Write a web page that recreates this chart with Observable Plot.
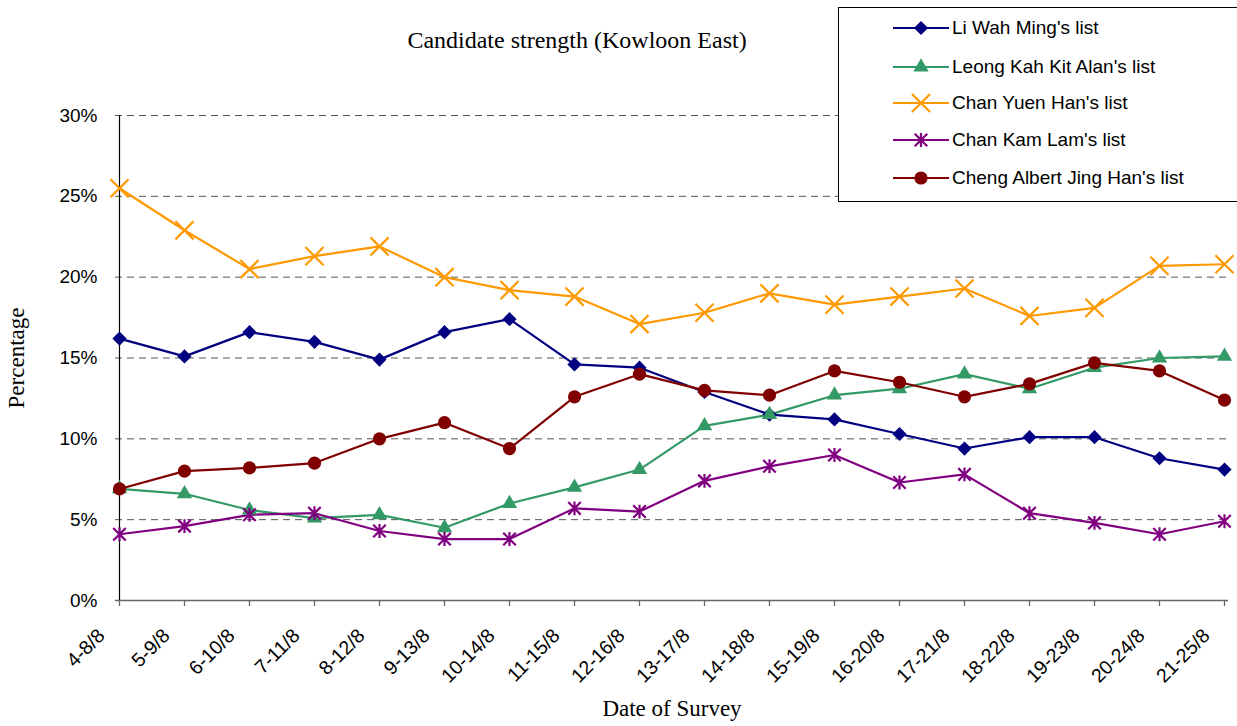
<!DOCTYPE html>
<html>
<head>
<meta charset="utf-8">
<script src="https://cdn.jsdelivr.net/npm/d3@7"></script>
<script src="https://cdn.jsdelivr.net/npm/@observablehq/plot@0.6"></script>
<style>
  body { margin: 0; background: #fff; }
  #wrap { position: relative; width: 1237px; height: 726px; }
  #legend { position: absolute; left: 838px; top: 7px; width: 399px; height: 195px; border: 1px solid #000; border-right: none; background: #fff; box-sizing: border-box; font-family: "Liberation Sans", Arial, sans-serif; font-size: 19px; color: #000; }
  .item { position: absolute; left: 53px; height: 22px; display: flex; align-items: center; white-space: nowrap; }
  .item svg { margin-right: 2px; }
</style>
</head>
<body>
<div id="wrap"></div>
<script>
const dates = ["4-8/8","5-9/8","6-10/8","7-11/8","8-12/8","9-13/8","10-14/8","11-15/8","12-16/8","13-17/8","14-18/8","15-19/8","16-20/8","17-21/8","18-22/8","19-23/8","20-24/8","21-25/8"];
const seriesNames = ["Li Wah Ming's list","Leong Kah Kit Alan's list","Chan Yuen Han's list","Chan Kam Lam's list","Cheng Albert Jing Han's list"];
const liWahMing   = [16.2,15.1,16.6,16.0,14.9,16.6,17.4,14.6,14.4,12.9,11.5,11.2,10.3,9.4,10.1,10.1,8.8,8.1];
const leongKahKit = [6.9,6.6,5.6,5.1,5.3,4.5,6.0,7.0,8.1,10.8,11.5,12.7,13.1,14.0,13.1,14.4,15.0,15.1];
const chanYuenHan = [25.5,22.9,20.5,21.3,21.9,20.0,19.2,18.8,17.1,17.8,19.0,18.3,18.8,19.3,17.6,18.1,20.7,20.8];
const chanKamLam  = [4.1,4.6,5.3,5.4,4.3,3.8,3.8,5.7,5.5,7.4,8.3,9.0,7.3,7.8,5.4,4.8,4.1,4.9];
const chengAlbert = [6.9,8.0,8.2,8.5,10.0,11.0,9.4,12.6,14.0,13.0,12.7,14.2,13.5,12.6,13.4,14.7,14.2,12.4];
const yTicks = [0,5,10,15,20,25,30];

// Excel-style star marker: vertical bar plus an X
const excelStar = {
  draw(ctx, size) {
    const r = Math.sqrt(size) * 0.56;
    const d = r * 0.9;
    ctx.moveTo(0, -r); ctx.lineTo(0, r);
    ctx.moveTo(-d, -d); ctx.lineTo(d, d);
    ctx.moveTo(-d, d); ctx.lineTo(d, -d);
  }
};

const colors = ["#000080","#339966","#FF9900","#800080","#800000"];
const symbols = [d3.symbolDiamond2, d3.symbolTriangle2, d3.symbolTimes, excelStar, d3.symbolCircle];
const filled = [true,true,false,false,true];
const radii = [6.4,7.3,8.3,7,6.6];
const valuesList = [liWahMing, leongKahKit, chanYuenHan, chanKamLam, chengAlbert];

const data = [];
seriesNames.forEach((s, i) => valuesList[i].forEach((v, j) => data.push({series: s, date: dates[j], value: v, idx: i})));

const sans = "Liberation Sans, Arial, sans-serif";
const serif = "Liberation Serif, Times New Roman, serif";

const marks = [
  Plot.ruleY(yTicks.filter(d => d > 0), {stroke: "#555", strokeDasharray: "7,5", strokeWidth: 1}),
  Plot.axisY({ticks: yTicks, tickFormat: d => d + "%", tickSize: 0, tickPadding: 18, fontSize: 19, fontFamily: sans, label: null, fill: "#000"}),
  Plot.axisX({tickSize: 6, fill: "none", label: null, stroke: "#666", strokeWidth: 1.3}),
  Plot.axisX({tickSize: 6, stroke: "none", tickRotate: -45, tickPadding: 26, dx: -18, fontSize: 19.5, fontFamily: sans, label: null, fill: "#000"}),
  Plot.ruleY([0], {stroke: "#666", strokeWidth: 1.6}),
  Plot.ruleX([dates[0]], {y1: 0, y2: 30, stroke: "#000", strokeWidth: 1.2}),
  Plot.text(["Percentage"], {frameAnchor: "left", textAnchor: "middle", lineAnchor: "middle", dx: -99, rotate: -90, fontSize: 23, fontFamily: serif, fill: "#000"}),
  Plot.text(["Date of Survey"], {frameAnchor: "bottom", lineAnchor: "middle", dy: 108, fontSize: 23, fontFamily: serif, fill: "#000"}),
  Plot.text(["Candidate strength (Kowloon East)"], {frameAnchor: "top", lineAnchor: "middle", dx: -95, dy: -75, fontSize: 24, fontFamily: serif, fill: "#000"})
];
seriesNames.forEach((s, i) => {
  const d = data.filter(r => r.idx === i);
  marks.push(Plot.line(d, {x: "date", y: "value", stroke: colors[i], strokeWidth: 2.2}));
});
seriesNames.forEach((s, i) => {
  const d = data.filter(r => r.idx === i);
  marks.push(Plot.dot(d, {x: "date", y: "value", symbol: symbols[i], r: radii[i],
    fill: filled[i] ? colors[i] : "none", stroke: filled[i] ? "none" : colors[i], strokeWidth: 2.2}));
});

const chart = Plot.plot({
  width: 1237, height: 726,
  marginLeft: 115, marginRight: 9, marginTop: 115, marginBottom: 126,
  style: {background: "#fff", overflow: "visible"},
  x: {type: "point", domain: dates, padding: 0},
  y: {domain: [0, 30]},
  marks
});
const wrap = document.getElementById("wrap");
wrap.appendChild(chart);

// Legend
const legend = document.createElement("div");
legend.id = "legend";
const itemTops = [9, 48, 84, 121, 159];
seriesNames.forEach((s, i) => {
  const it = document.createElement("div");
  it.className = "item";
  it.style.top = itemTops[i] + "px";
  const r = radii[i];
  const path = d3.symbol(symbols[i], Math.PI * r * r)();
  it.innerHTML = `<svg width="58" height="22"><line x1="1" x2="57" y1="11" y2="11" stroke="${colors[i]}" stroke-width="2.2"/><path transform="translate(29,11)" d="${path}" fill="${filled[i] ? colors[i] : "none"}" stroke="${filled[i] ? "none" : colors[i]}" stroke-width="2.2"/></svg><span>${s}</span>`;
  legend.appendChild(it);
});
wrap.appendChild(legend);
</script>
</body>
</html>
